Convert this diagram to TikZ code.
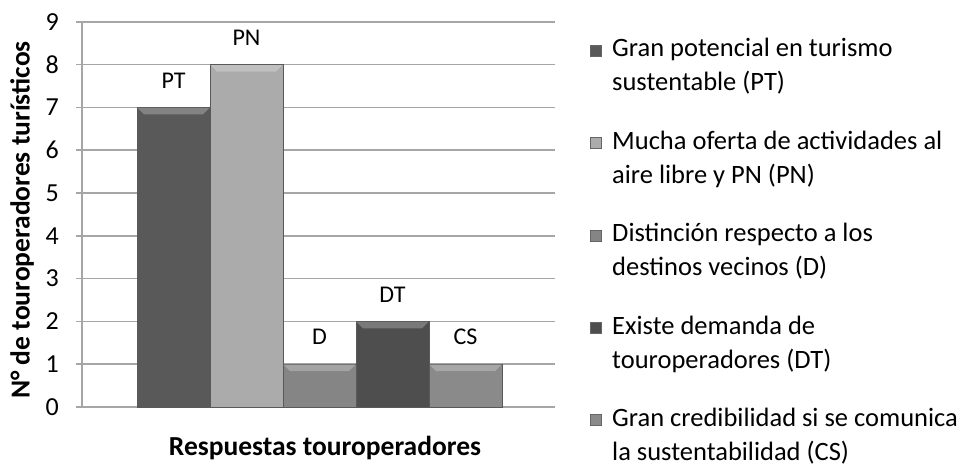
\documentclass[tikz,border=0pt]{standalone}
\usepackage{fontspec}
\setmainfont{Carlito}
\usetikzlibrary{positioning}
\definecolor{barPT}{HTML}{595959}
\definecolor{barPN}{HTML}{ABABAB}
\definecolor{barD}{HTML}{858585}
\definecolor{barDT}{HTML}{4E4E4E}
\definecolor{barCS}{HTML}{8A8A8A}
\definecolor{gridgray}{HTML}{A6A6A6}
\begin{document}
\begin{tikzpicture}[x=1pt,y=1pt,
  grid/.style={gridgray, line width=1.6pt},
  bar/.style={draw=black!65, line width=0.6pt},
  ticklab/.style={anchor=east, inner sep=0pt, font=\fontsize{26}{30}\selectfont},
  barlab/.style={font=\fontsize{24}{28}\selectfont},
  marker/.style={draw=black!60, line width=0.4pt, minimum size=11pt, inner sep=0pt},
  legtext/.style={anchor=west, align=left, inner sep=0pt, font=\fontsize{26.5}{34}\selectfont},
  axtitle/.style={font=\bfseries\fontsize{27.5}{32}\selectfont}
]
\useasboundingbox (0,0) rectangle (963,466);
\foreach \v in {0,...,9} {
  \draw[grid] (76,{59+42.8*\v}) -- (555,{59+42.8*\v});
  \node[ticklab] (tick\v) at (59,{59+42.8*\v}) {\v};
}
\draw[gridgray, line width=1.2pt] (82,59) -- (82,444);

\foreach \name/\xl/\v in {PT/137/7, PN/210/8, D/283/1, DT/356/2, CS/429/1} {
  \fill[bar\name, bar] (\xl,59) rectangle (\xl+73,{59+42.8*\v});
  \fill[bar\name!75!white] (\xl+0.5,{59+42.8*\v-0.5}) -- (\xl+72.5,{59+42.8*\v-0.5})
     -- (\xl+66,{59+42.8*\v-7}) -- (\xl+7,{59+42.8*\v-7}) -- cycle;
  \node[barlab] (lab\name) at (\xl+36.5,{59+42.8*\v+27}) {\name};
}

\node[axtitle, rotate=90] (ytitle) at (22,246) {N° de touroperadores turísticos};
\node[axtitle] (xtitle) at (325,18) {Respuestas touroperadores};

\foreach \name/\y/\txt in {PT/399.5/{Gran potencial en turismo\\sustentable (PT)},
    PN/307/{Mucha oferta de actividades al\\aire libre y PN (PN)},
    D/214.5/{Distinción respecto a los\\destinos vecinos (D)},
    DT/122/{Existe demanda de\\touroperadores (DT)},
    CS/30/{Gran credibilidad si se comunica\\la sustentabilidad (CS)}} {
  \node[legtext] (leg\name) at (612,\y) {\txt};
  \node[marker, fill=bar\name] (mk\name) at (596,\y+16) {};
}
\end{tikzpicture}
\end{document}
